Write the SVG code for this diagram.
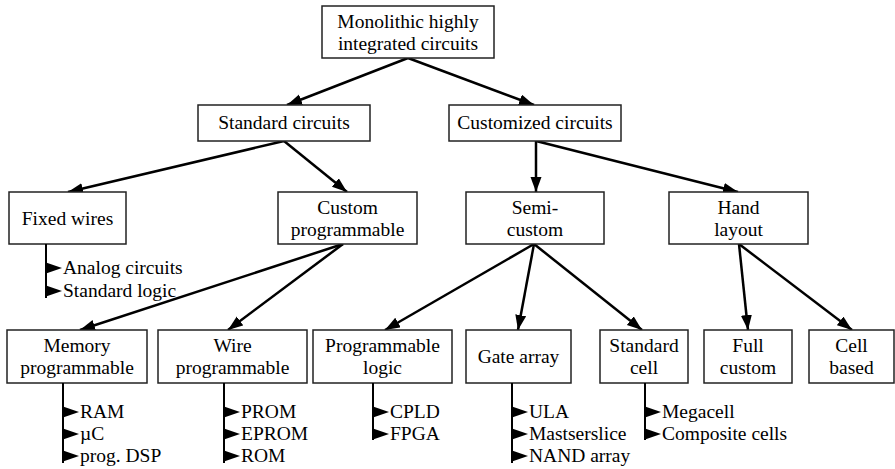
<svg xmlns="http://www.w3.org/2000/svg" width="895" height="469" viewBox="0 0 895 469">
  <style>
    .box { fill: #fff; stroke: #222; stroke-width: 1.5; }
    .lbl { text-anchor: middle; }
    .edge { stroke: #000; stroke-width: 2.5; fill: none; marker-end: url(#head); }
    .stem { stroke: #000; stroke-width: 2; fill: none; }
    .tri { fill: #000; }
  </style>
  <defs>
    <marker id="head" markerUnits="userSpaceOnUse" markerWidth="16" markerHeight="12" refX="15" refY="5.5" orient="auto">
      <path d="M0,0 L15,5.5 L0,11 Z" fill="#000"/>
    </marker>
    <path id="bullet" d="M0,-5.5 L16,0 L0,5.5 Z"/>
  </defs>

  <rect width="895" height="469" fill="#fff"/>

  <!-- connectors -->
  <g id="connectors">
    <line class="edge" x1="408" y1="58" x2="287" y2="105"/>
    <line class="edge" x1="408" y1="58" x2="534" y2="105"/>
    <line class="edge" x1="284" y1="141" x2="68" y2="192"/>
    <line class="edge" x1="284" y1="141" x2="347" y2="192"/>
    <line class="edge" x1="536" y1="141" x2="536" y2="192"/>
    <line class="edge" x1="536" y1="141" x2="738" y2="192"/>
    <line class="edge" x1="343" y1="244" x2="80" y2="330"/>
    <line class="edge" x1="343" y1="244" x2="228" y2="330"/>
    <line class="edge" x1="534" y1="244" x2="385" y2="330"/>
    <line class="edge" x1="534" y1="244" x2="518" y2="330"/>
    <line class="edge" x1="534" y1="244" x2="642" y2="330"/>
    <line class="edge" x1="739" y1="244" x2="748" y2="330"/>
    <line class="edge" x1="739" y1="244" x2="852" y2="330"/>
  </g>

  <g font-family="Liberation Serif, Times New Roman, Tinos, DejaVu Serif, serif" font-size="19.5" fill="#000">
  <!-- level 0 -->
  <g id="root">
    <rect class="box" x="322" y="6" width="172" height="52"/>
    <text class="lbl" x="408" y="28">Monolithic highly</text>
    <text class="lbl" x="408" y="50">integrated circuits</text>
  </g>

  <!-- level 1 -->
  <g id="standard-circuits">
    <rect class="box" x="198" y="105" width="172" height="36"/>
    <text class="lbl" x="284" y="129">Standard circuits</text>
  </g>
  <g id="customized-circuits">
    <rect class="box" x="449" y="105" width="172" height="36"/>
    <text class="lbl" x="535" y="129">Customized circuits</text>
  </g>

  <!-- level 2 -->
  <g id="fixed-wires">
    <rect class="box" x="9" y="192" width="117" height="52"/>
    <text class="lbl" x="67.5" y="225">Fixed wires</text>
    <line class="stem" x1="46" y1="244" x2="46" y2="298"/>
    <use href="#bullet" class="tri" x="46" y="268"/>
    <use href="#bullet" class="tri" x="46" y="291"/>
    <text x="63" y="274">Analog circuits</text>
    <text x="63" y="297">Standard logic</text>
  </g>
  <g id="custom-programmable">
    <rect class="box" x="278" y="192" width="139" height="52"/>
    <text class="lbl" x="347.5" y="214">Custom</text>
    <text class="lbl" x="347.5" y="236">programmable</text>
  </g>
  <g id="semi-custom">
    <rect class="box" x="466" y="192" width="138" height="52"/>
    <text class="lbl" x="535" y="214">Semi-</text>
    <text class="lbl" x="535" y="236">custom</text>
  </g>
  <g id="hand-layout">
    <rect class="box" x="669" y="192" width="139" height="52"/>
    <text class="lbl" x="738.5" y="214">Hand</text>
    <text class="lbl" x="738.5" y="236">layout</text>
  </g>

  <!-- level 3 -->
  <g id="memory-programmable">
    <rect class="box" x="7" y="330" width="140" height="53"/>
    <text class="lbl" x="77" y="352">Memory</text>
    <text class="lbl" x="77" y="374">programmable</text>
    <line class="stem" x1="63" y1="383" x2="63" y2="463"/>
    <use href="#bullet" class="tri" x="63" y="412"/>
    <use href="#bullet" class="tri" x="63" y="434"/>
    <use href="#bullet" class="tri" x="63" y="456"/>
    <text x="80" y="418">RAM</text>
    <text x="80" y="440">µC</text>
    <text x="80" y="462">prog. DSP</text>
  </g>
  <g id="wire-programmable">
    <rect class="box" x="158" y="330" width="149" height="53"/>
    <text class="lbl" x="232.5" y="352">Wire</text>
    <text class="lbl" x="232.5" y="374">programmable</text>
    <line class="stem" x1="224" y1="383" x2="224" y2="463"/>
    <use href="#bullet" class="tri" x="224" y="412"/>
    <use href="#bullet" class="tri" x="224" y="434"/>
    <use href="#bullet" class="tri" x="224" y="456"/>
    <text x="241" y="418">PROM</text>
    <text x="241" y="440">EPROM</text>
    <text x="241" y="462">ROM</text>
  </g>
  <g id="programmable-logic">
    <rect class="box" x="313" y="330" width="139" height="53"/>
    <text class="lbl" x="382.5" y="352">Programmable</text>
    <text class="lbl" x="382.5" y="374">logic</text>
    <line class="stem" x1="373" y1="383" x2="373" y2="440"/>
    <use href="#bullet" class="tri" x="373" y="412"/>
    <use href="#bullet" class="tri" x="373" y="434"/>
    <text x="390" y="418">CPLD</text>
    <text x="390" y="440">FPGA</text>
  </g>
  <g id="gate-array">
    <rect class="box" x="466" y="330" width="105" height="53"/>
    <text class="lbl" x="518.5" y="363">Gate array</text>
    <line class="stem" x1="512" y1="383" x2="512" y2="463"/>
    <use href="#bullet" class="tri" x="512" y="412"/>
    <use href="#bullet" class="tri" x="512" y="434"/>
    <use href="#bullet" class="tri" x="512" y="456"/>
    <text x="529" y="418">ULA</text>
    <text x="529" y="440">Mastserslice</text>
    <text x="529" y="462">NAND array</text>
  </g>
  <g id="standard-cell">
    <rect class="box" x="600" y="330" width="88" height="53"/>
    <text class="lbl" x="644" y="352">Standard</text>
    <text class="lbl" x="644" y="374">cell</text>
    <line class="stem" x1="645" y1="383" x2="645" y2="440"/>
    <use href="#bullet" class="tri" x="645" y="412"/>
    <use href="#bullet" class="tri" x="645" y="434"/>
    <text x="662" y="418">Megacell</text>
    <text x="662" y="440">Composite cells</text>
  </g>
  <g id="full-custom">
    <rect class="box" x="704" y="330" width="88" height="53"/>
    <text class="lbl" x="748" y="352">Full</text>
    <text class="lbl" x="748" y="374">custom</text>
  </g>
  <g id="cell-based">
    <rect class="box" x="809" y="330" width="85" height="53"/>
    <text class="lbl" x="851.5" y="352">Cell</text>
    <text class="lbl" x="851.5" y="374">based</text>
  </g>
  </g>
</svg>
